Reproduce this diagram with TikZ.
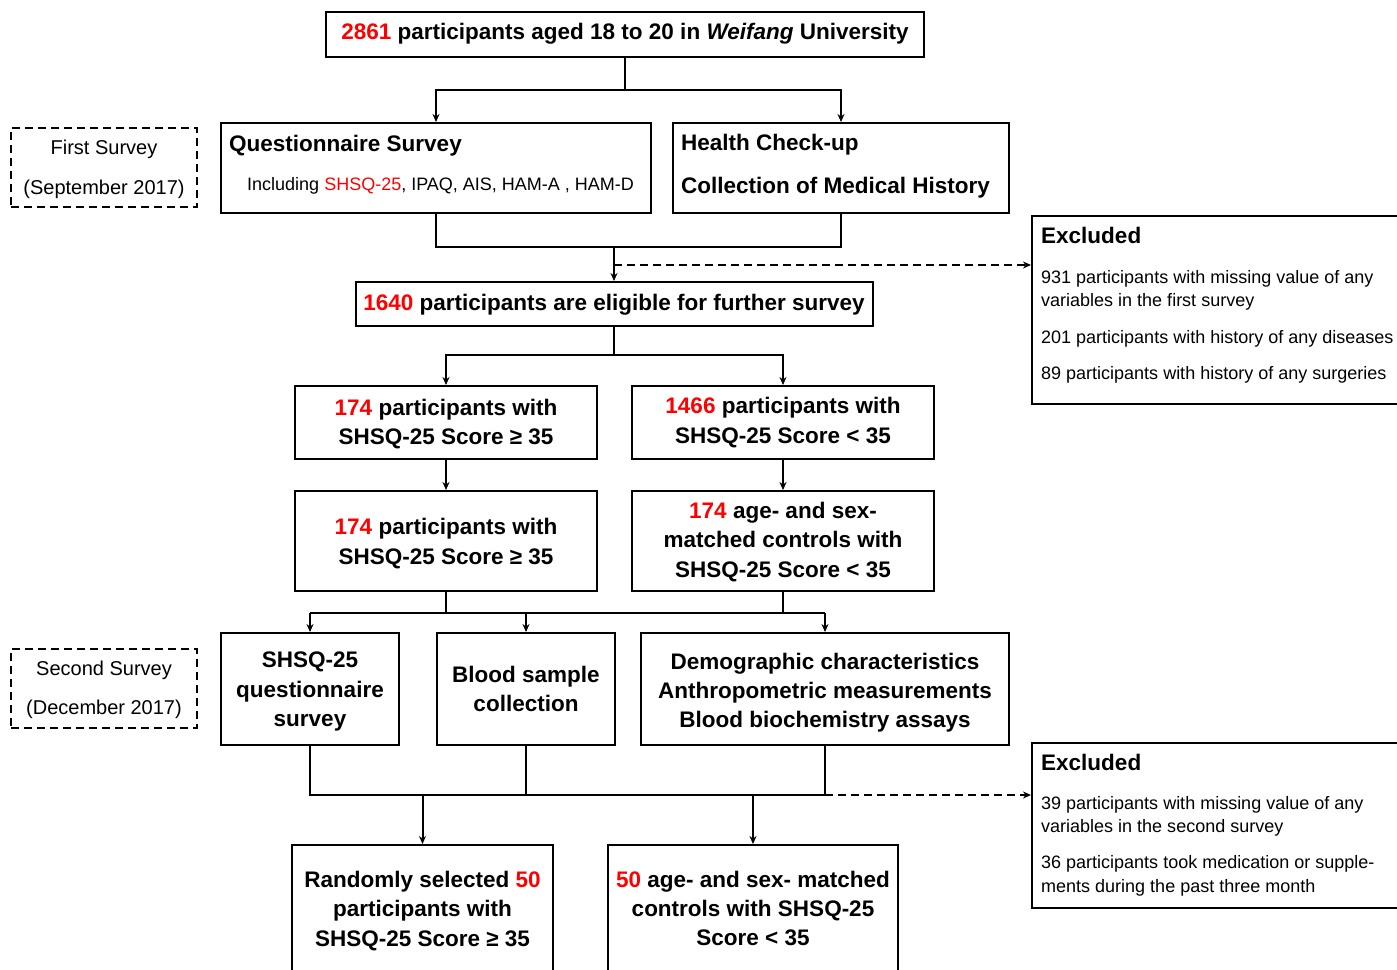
\documentclass[tikz,border=0pt]{standalone}
\usepackage{fontspec}
\setmainfont{Liberation Sans}
\usetikzlibrary{arrows.meta,calc}
\definecolor{rd}{RGB}{255,0,0}
\begin{document}
\begin{tikzpicture}[x=1pt,y=-1pt,
  box/.style={draw, line width=2pt, inner sep=0pt},
  ctxt/.style={inner sep=0pt, align=center, font=\fontsize{22.5}{29.2}\selectfont\bfseries},
  btxt/.style={anchor=base west, inner sep=0pt, font=\fontsize{22.5}{29}\selectfont\bfseries},
  rtxt/.style={anchor=base west, inner sep=0pt, font=\fontsize{18}{23}\selectfont},
  stxt/.style={anchor=base, inner sep=0pt, font=\fontsize{20}{24}\selectfont},
  conn/.style={line width=2pt},
  arr/.style={line width=2pt,-{Stealth[length=8pt,width=7pt]}},
  dsh/.style={line width=1.8pt, dash pattern=on 8pt off 5pt, -{Stealth[length=8pt,width=7pt]}},
  dbox/.style={draw, line width=2pt, dash pattern=on 8pt off 5pt},
]
\useasboundingbox (0,0) rectangle (1397,969);
\clip (0,0) rectangle (1397,969);

% main boxes
\node[box, minimum width=598pt, minimum height=45pt] (top) at (625,34.5) {};
\node[ctxt] (topt) at (625,33.5)
  {\textcolor{rd}{2861} participants aged 18 to 20 in \textit{Weifang} University};
\node[box, minimum width=430pt, minimum height=90pt] (q) at (436,168) {};
\node[btxt] (qt) at (229,151) {Questionnaire Survey};
\node[rtxt] (qi) at (247,190) {Including \textcolor{rd}{SHSQ-25}, IPAQ, AIS, HAM-A , HAM-D};
\node[box, minimum width=336pt, minimum height=90pt] (h) at (841,168) {};
\node[btxt] (ht) at (681,150) {Health Check-up};
\node[btxt] (hm) at (681,193) {Collection of Medical History};

\node[box, minimum width=517pt, minimum height=44pt] (el) at (614,304) {};
\node[ctxt] (elt) at (614,305)
  {\textcolor{rd}{1640} participants are eligible for further survey};

\node[box, minimum width=302pt, minimum height=73pt] (a1) at (446,422.5) {};
\node[ctxt] (a1t) at (446,424)
  {\textcolor{rd}{174} participants with\\SHSQ-25 Score ≥ 35};
\node[box, minimum width=302pt, minimum height=73pt] (b1) at (783,422.5) {};
\node[ctxt] (b1t) at (783,422.5)
  {\textcolor{rd}{1466} participants with\\SHSQ-25 Score < 35};
\node[box, minimum width=302pt, minimum height=100pt] (a2) at (446,541) {};
\node[ctxt] (a2t) at (446,543.5)
  {\textcolor{rd}{174} participants with\\SHSQ-25 Score ≥ 35};
\node[box, minimum width=302pt, minimum height=100pt] (b2) at (783,541) {};
\node[ctxt] (b2t) at (783,542)
  {\textcolor{rd}{174} age- and sex-\\matched controls with\\SHSQ-25 Score < 35};

\node[box, minimum width=178pt, minimum height=112pt] (c1) at (310,689) {};
\node[ctxt] (c1t) at (310,691.5) {SHSQ-25\\questionnaire\\survey};
\node[box, minimum width=178pt, minimum height=112pt] (c2) at (526,689) {};
\node[ctxt] (c2t) at (526,689) {Blood sample\\collection};
\node[box, minimum width=368pt, minimum height=112pt] (c3) at (825,689) {};
\node[ctxt] (c3t) at (825,692.5)
  {Demographic characteristics\\Anthropometric measurements\\Blood biochemistry assays};

\node[box, minimum width=261pt, minimum height=126pt] (d1) at (422.5,908) {};
\node[ctxt] (d1t) at (422.5,911)
  {Randomly selected \textcolor{rd}{50}\\participants with\\SHSQ-25 Score ≥ 35};
\node[box, minimum width=290pt, minimum height=126pt] (d2) at (753,908) {};
\node[ctxt] (d2t) at (753,908.5)
  {\textcolor{rd}{50} age- and sex- matched\\controls with SHSQ-25\\Score < 35};

% excluded boxes
\node[box, minimum width=388pt, minimum height=188pt] (ex1) at (1226,310) {};
\node[btxt] (ex1t) at (1041,243) {Excluded};
\node[rtxt] (ex1a) at (1041,283.5) {931 participants with missing value of any};
\node[rtxt] (ex1b) at (1041,306.5) {variables in the first survey};
\node[rtxt] (ex1c) at (1041,343.5) {201 participants with history of any diseases};
\node[rtxt] (ex1d) at (1041,379.5) {89 participants with history of any surgeries};

\node[box, minimum width=388pt, minimum height=165pt] (ex2) at (1226,825.5) {};
\node[btxt] (ex2t) at (1041,770) {Excluded};
\node[rtxt] (ex2a) at (1041,809.5) {39 participants with missing value of any};
\node[rtxt] (ex2b) at (1041,832.5) {variables in the second survey};
\node[rtxt] (ex2c) at (1041,868.5) {36 participants took medication or supple-};
\node[rtxt] (ex2d) at (1041,892.5) {ments during the past three month};

% survey labels
\node[dbox, minimum width=186pt, minimum height=79pt] (fs) at (104,167.5) {};
\node[stxt] (fs1) at (104,154) {First Survey};
\node[stxt] (fs2) at (104,194) {(September 2017)};
\node[dbox, minimum width=186pt, minimum height=79pt] (ss) at (104,688.5) {};
\node[stxt] (ss1) at (104,675) {Second Survey};
\node[stxt] (ss2) at (104,714) {(December 2017)};

% connectors
\coordinate (j0) at (625,90);
\draw[conn] (top.south) -- (j0);
\draw[arr] (j0) -| (q.north);
\draw[arr] (j0) -| (h.north);

\coordinate (j1) at (614,247);
\draw[conn] (q.south) |- (j1) -| (h.south);
\draw[arr] (j1) -- (el.north);
\coordinate (j2) at (614,265);
\draw[dsh] (j2) -- (j2 -| ex1.west);

\coordinate (j3) at (614,355);
\draw[conn] (el.south) -- (j3);
\draw[arr] (j3) -| (a1.north);
\draw[arr] (j3) -| (b1.north);

\draw[arr] (a1.south) -- (a2.north);
\draw[arr] (b1.south) -- (b2.north);

\coordinate (j4) at (446,613);
\draw[conn] (a2.south) -- (j4);
\draw[conn] (b2.south) -- (b2.south |- j4);
\draw[conn] (c1.north |- j4) -- (c3.north |- j4);
\draw[arr] (c1.north |- j4) -- (c1.north);
\draw[arr] (c2.north |- j4) -- (c2.north);
\draw[arr] (c3.north |- j4) -- (c3.north);

\coordinate (j5) at (825,795);
\draw[conn] (c1.south) |- (j5) -- (c3.south);
\draw[conn] (c2.south) -- (c2.south |- j5);
\draw[arr] (d1.north |- j5) -- (d1.north);
\draw[arr] (d2.north |- j5) -- (d2.north);
\draw[dsh] (j5) -- (j5 -| ex2.west);
\end{tikzpicture}
\end{document}
